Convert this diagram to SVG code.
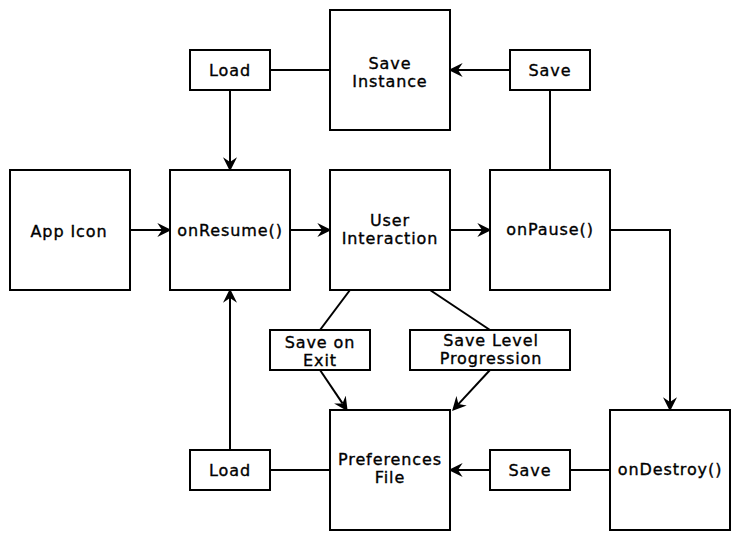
<svg xmlns="http://www.w3.org/2000/svg" width="740" height="544" viewBox="0 0 740 544">
<style>
  .box { fill: #ffffff; stroke: #000000; stroke-width: 2; }
  .lbl { font-family: "DejaVu Sans", Verdana, sans-serif; font-weight: normal; font-size: 16px; letter-spacing: 0.9px; fill: #000000; stroke: #000000; stroke-width: 0.35px; text-anchor: middle; }
  .edge { fill: none; stroke: #000000; stroke-width: 2; }
  .arr { marker-end: url(#ah); }
</style>
<defs>
  <marker id="ah" markerUnits="userSpaceOnUse" markerWidth="14" markerHeight="14" viewBox="0 0 12 12" refX="4" refY="6" orient="auto">
    <path d="M12,6 L0,0 L4,6 L0,12 Z" fill="#000000"/>
  </marker>
</defs>
<rect width="740" height="544" fill="#ffffff"/>
<g id="connectors">
  <line class="edge arr" x1="230" y1="90" x2="230" y2="162"/>
  <line class="edge" x1="270" y1="70" x2="330" y2="70"/>
  <line class="edge arr" x1="510" y1="70" x2="458" y2="70"/>
  <line class="edge" x1="550" y1="90" x2="550" y2="170"/>
  <line class="edge arr" x1="130" y1="230" x2="162" y2="230"/>
  <line class="edge arr" x1="290" y1="230" x2="322" y2="230"/>
  <line class="edge arr" x1="450" y1="230" x2="482" y2="230"/>
  <path class="edge arr" d="M610,230 H670 V402"/>
  <line class="edge" x1="350" y1="290" x2="320" y2="330"/>
  <line class="edge" x1="430" y1="290" x2="490" y2="330"/>
  <line class="edge arr" x1="320" y1="370" x2="342.5" y2="403.4"/>
  <line class="edge arr" x1="490" y1="370" x2="458.4" y2="404.1"/>
  <line class="edge arr" x1="230" y1="450" x2="230" y2="298"/>
  <line class="edge" x1="270" y1="470" x2="330" y2="470"/>
  <line class="edge arr" x1="490" y1="470" x2="458" y2="470"/>
  <line class="edge" x1="610" y1="470" x2="570" y2="470"/>
</g>
<g id="save-instance">
  <rect class="box" x="330" y="10" width="120" height="120"/>
  <text class="lbl" x="390" y="68.5">Save</text>
  <text class="lbl" x="390" y="86.5">Instance</text>
</g>
<g id="load-top">
  <rect class="box" x="190" y="50" width="80" height="40"/>
  <text class="lbl" x="230" y="75.5">Load</text>
</g>
<g id="save-top">
  <rect class="box" x="510" y="50" width="80" height="40"/>
  <text class="lbl" x="550" y="75.5">Save</text>
</g>
<g id="app-icon">
  <rect class="box" x="10" y="170" width="120" height="120"/>
  <text class="lbl" x="69" y="236.5">App Icon</text>
</g>
<g id="on-resume">
  <rect class="box" x="170" y="170" width="120" height="120"/>
  <text class="lbl" x="230" y="236">onResume()</text>
</g>
<g id="user-interaction">
  <rect class="box" x="330" y="170" width="120" height="120"/>
  <text class="lbl" x="390" y="225.5">User</text>
  <text class="lbl" x="390" y="243.5">Interaction</text>
</g>
<g id="on-pause">
  <rect class="box" x="490" y="170" width="120" height="120"/>
  <text class="lbl" x="550" y="235">onPause()</text>
</g>
<g id="save-on-exit">
  <rect class="box" x="270" y="330" width="100" height="40"/>
  <text class="lbl" x="320" y="348">Save on</text>
  <text class="lbl" x="320" y="366">Exit</text>
</g>
<g id="save-level-progression">
  <rect class="box" x="410" y="330" width="160" height="40"/>
  <text class="lbl" x="491" y="345.5">Save Level</text>
  <text class="lbl" x="491" y="363.5">Progression</text>
</g>
<g id="preferences-file">
  <rect class="box" x="330" y="410" width="120" height="120"/>
  <text class="lbl" x="390" y="465">Preferences</text>
  <text class="lbl" x="390" y="483">File</text>
</g>
<g id="load-bottom">
  <rect class="box" x="190" y="450" width="80" height="40"/>
  <text class="lbl" x="230" y="475.5">Load</text>
</g>
<g id="save-bottom">
  <rect class="box" x="490" y="450" width="80" height="40"/>
  <text class="lbl" x="530" y="475.5">Save</text>
</g>
<g id="on-destroy">
  <rect class="box" x="610" y="410" width="120" height="120"/>
  <text class="lbl" x="670" y="475">onDestroy()</text>
</g>
</svg>
